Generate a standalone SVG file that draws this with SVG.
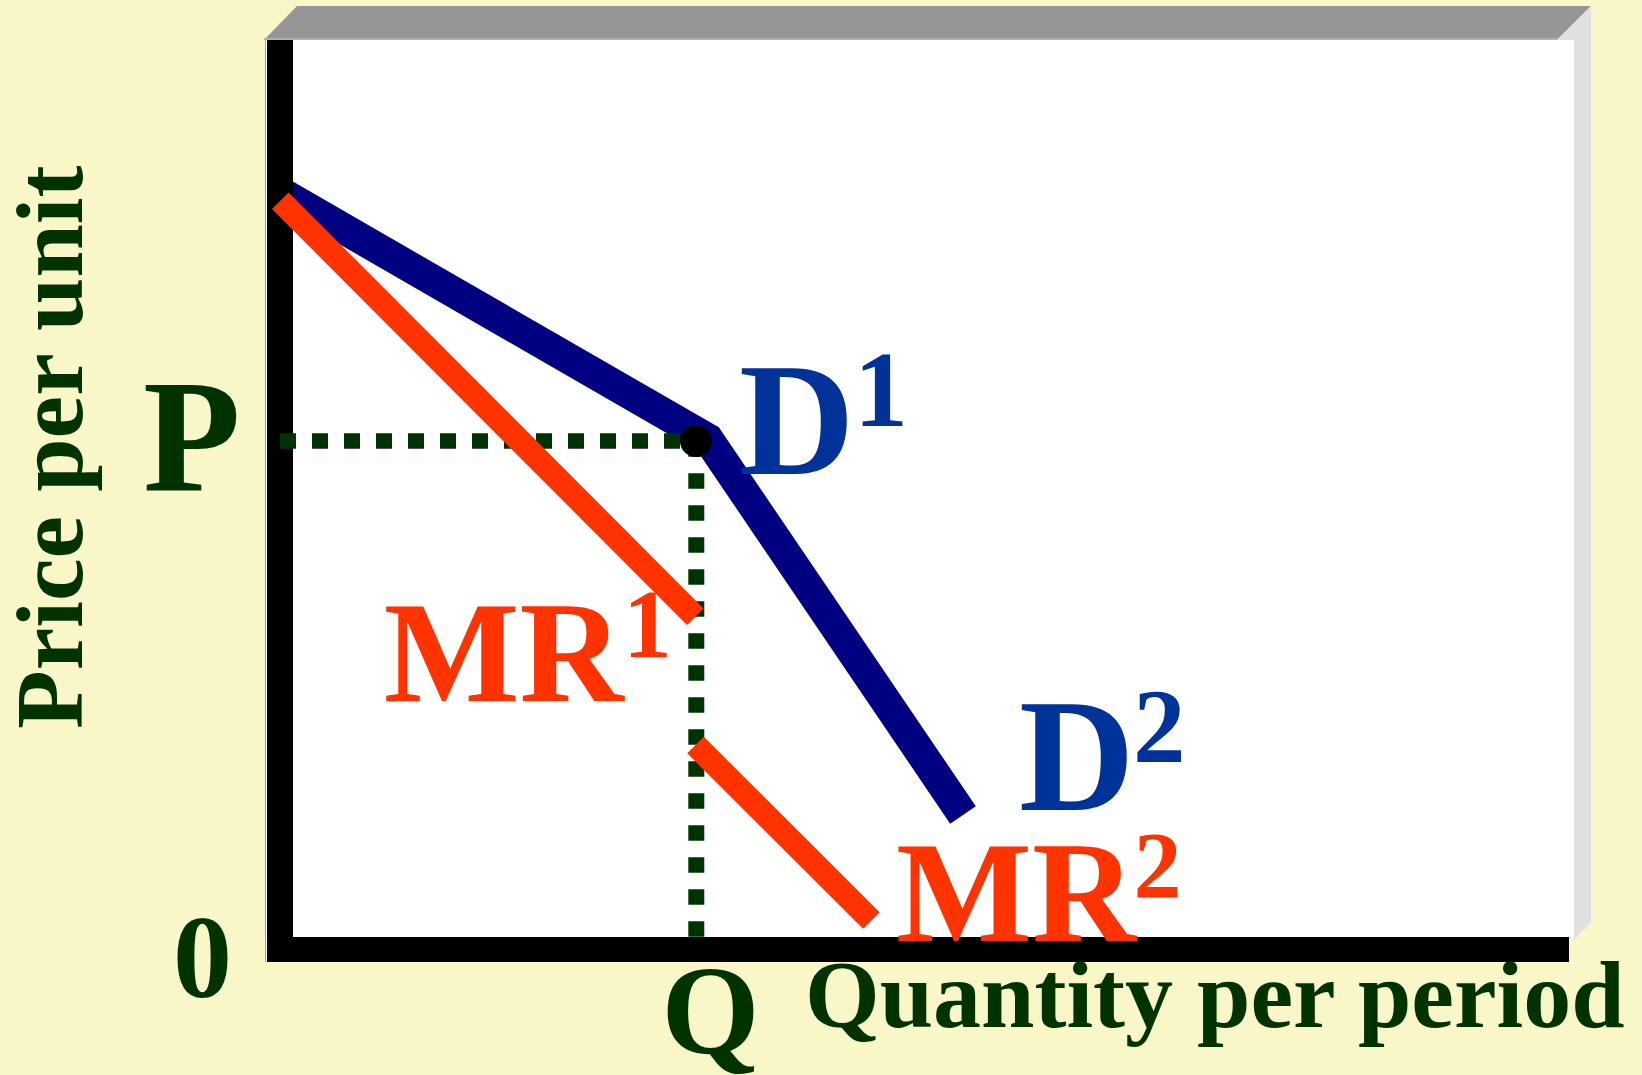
<svg xmlns="http://www.w3.org/2000/svg" width="1642" height="1075" viewBox="0 0 1642 1075">
  <style>
    .lbl { font-family: "Liberation Serif", "Times New Roman", serif; font-weight: bold; }
    .green { fill: #003300; }
    .blue { fill: #003399; }
    .red { fill: #FF3300; }
    .dcurve { fill: none; stroke: #000080; stroke-width: 31; stroke-linecap: butt; stroke-linejoin: miter; }
    .mr { fill: none; stroke: #FF3300; stroke-width: 23.5; stroke-linecap: butt; }
    .dots { fill: none; stroke: #003300; }
  </style>
  <rect x="0" y="0" width="1642" height="1075" fill="#F9F7C8"/>

  <g id="frame">
    <rect x="266" y="40" width="1308" height="897" fill="#FFFFFF"/>
    <polygon points="264,40 297,6 1591,6 1557,40" fill="#969696"/>
    <line x1="264" y1="39" x2="1557" y2="39" stroke="#B0B0B0" stroke-width="2"/>
    <polygon points="1557,40 1591,6 1591,922 1574,939 1574,40" fill="#E0E0E0"/>
  </g>

  <g id="connectors">
    <polyline id="D-curve" class="dcurve" points="280,192 708,439 963,815"/>
    <g id="axes">
      <line x1="265.5" y1="40" x2="265.5" y2="962" stroke="#A0A0A0" stroke-width="1"/>
      <rect x="267" y="40" width="26" height="922" fill="#000000"/>
      <rect x="267" y="937" width="1302" height="25" fill="#000000"/>
    </g>
    <line id="price-guide" class="dots" x1="280" y1="441" x2="696" y2="441" stroke-width="15.4" stroke-dasharray="16 16"/>
    <line id="qty-guide" class="dots" x1="696.3" y1="441.3" x2="696.3" y2="937" stroke-width="16" stroke-dasharray="15.4 16.6"/>
    <line id="MR1-line" class="mr" x1="280.3" y1="200.8" x2="695.3" y2="616.7"/>
    <line id="MR2-line" class="mr" x1="695.5" y1="745" x2="871.3" y2="920.5"/>
    <circle id="kink-point" cx="696" cy="441" r="16" fill="#000000"/>
  </g>

  <g id="y-axis-label">
    <text class="lbl green" font-size="96" transform="translate(82,729) rotate(-90)">Price per unit</text>
  </g>
  <g id="x-axis-label">
    <text class="lbl green" font-size="96" x="805" y="1027">Quantity per period</text>
  </g>
  <g id="label-P">
    <text class="lbl green" font-size="160" x="143" y="490">P</text>
  </g>
  <g id="label-0">
    <text class="lbl green" font-size="118" x="173" y="997">0</text>
  </g>
  <g id="label-Q">
    <text class="lbl green" font-size="126" x="661.5" y="1053">Q</text>
  </g>
  <g id="label-D1">
    <text class="lbl blue"><tspan font-size="160" x="739" y="474">D</tspan><tspan font-size="108" x="854" y="426">1</tspan></text>
  </g>
  <g id="label-D2">
    <text class="lbl blue"><tspan font-size="160" x="1019" y="810">D</tspan><tspan font-size="105" x="1133" y="761.7">2</tspan></text>
  </g>
  <g id="label-MR1">
    <text class="lbl red"><tspan font-size="144" x="383.7" y="700.7">MR</tspan><tspan font-size="97" x="623.2" y="657.3">1</tspan></text>
  </g>
  <g id="label-MR2">
    <text class="lbl red"><tspan font-size="144" x="896" y="940.7">MR</tspan><tspan font-size="96" x="1133.5" y="898.3">2</tspan></text>
  </g>
</svg>
